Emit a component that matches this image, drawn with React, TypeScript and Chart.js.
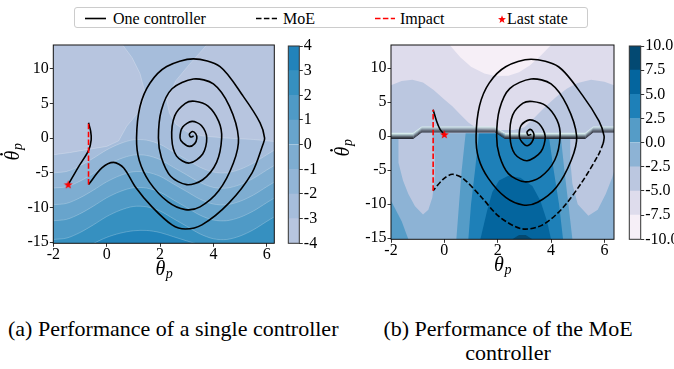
import React, { useEffect, useRef } from 'react';
import { Chart, registerables } from 'chart.js';

Chart.register(...registerables);

type P = [number, number];
const SERIF = "'Liberation Serif', 'DejaVu Serif', 'Noto Serif', serif";

// ---------- axes ----------
const X_TICKS = [-2, 0, 2, 4, 6];
const Y_TICKS = [-15, -10, -5, 0, 5, 10];
const X_MIN = -2;
const X_MAX_A = 6.283;
const X_MAX_B = 6.36;
const Y_MIN = -15.15;
const Y_MAX = 13.4;

// ---------- (a) single controller: contour levels ----------
const LEVELS_A = [-4, -3, -2, -1, 0, 1, 2, 3, 4];
const COLORS_A = ['#b7c5df', '#a6bddb', '#92b5d6', '#7eadd1', '#68a4cc', '#4f9ac6', '#3690c0', '#2283ba'];
const WAVE_X = [-2, -1.5, -1, -0.5, 0, 0.5, 1, 1.5, 2, 2.5, 3, 3.5, 4, 4.5, 5, 5.5, 6, 6.3];
const A_LEVEL_M2 = [-5.0, -4.8, -4.0, -2.9, -1.7, -0.8, -0.25, -0.3, -0.9, -2.0, -3.1, -4.2, -4.9, -5.0, -4.5, -3.6, -2.4, -1.7];
const A_LEVEL_M1 = [-7.2, -7.0, -6.2, -5.1, -3.9, -3.0, -2.45, -2.5, -3.1, -4.2, -5.3, -6.4, -7.1, -7.2, -6.7, -5.8, -4.6, -3.9];
const A_LEVEL_0 = [-9.6, -9.4, -8.6, -7.5, -6.3, -5.4, -4.85, -4.9, -5.5, -6.6, -7.7, -8.8, -9.5, -9.6, -9.1, -8.2, -7.0, -6.3];
const A_LEVEL_1 = [-11.9, -11.7, -10.9, -9.8, -8.6, -7.7, -7.15, -7.2, -7.8, -8.9, -10.0, -11.1, -11.8, -11.9, -11.4, -10.5, -9.3, -8.6];
const A_LEVEL_2 = [-14.6, -14.4, -13.6, -12.5, -11.3, -10.4, -9.85, -9.9, -10.5, -11.6, -12.7, -13.8, -14.5, -14.6, -14.1, -13.2, -12.0, -11.3];
const A_LEVEL_3 = [-17.0, -16.8, -16.4, -15.2, -14.3, -13.7, -13.35, -13.3, -13.6, -14.2, -14.8, -15.4, -16.0, -16.5, -16.6, -16.4, -16.0, -15.8];
const A_LIGHT_LEFT: P[] = [[-2, 13.4], [0.6, 13.4], [0.95, 11.6], [1.25, 9.3], [1.44, 6.5], [1.25, 4.0], [0.75, 1.7], [0.45, -0.4], [0, -1.2], [-0.8, -1.7], [-1.4, -2.1], [-2, -2.4]];
const A_LIGHT_RIGHT: P[] = [[3.75, 13.4], [6.3, 13.4], [6.3, -0.5], [5.5, -0.2], [4.5, 0.0], [3.6, 0.3], [3.0, 0.9], [2.6, 2.0], [2.35, 3.6], [2.25, 5.5], [2.6, 8.3], [3.1, 10.6], [3.75, 13.4]];

// ---------- (a) trajectory ----------
const A_SINGLE: P[] = [
  [3.26, 0.3], [3.15, 0.15], [3.1, 0.55], [3.22, 0.95], [3.34, 0.6], [3.38, 0], [3.3, -0.8], [3.1, -1.2], [2.86, -0.7],
  [2.75, 0], [2.85, 1.6], [3.2, 2.4], [3.55, 1.8], [3.75, 0], [3.6, -2.3], [3.1, -3.6], [2.62, -2.6],
  [2.44, 0], [2.55, 3.2], [2.95, 5.0], [3.3, 5.3], [3.8, 4.6], [4.2, 2.4], [4.31, 0], [4.12, -3.5], [3.6, -6.0], [3.0, -6.7], [2.4, -5.5], [2.05, -2.8],
  [1.94, 0], [2.05, 4.0], [2.45, 7.1], [3.25, 8.5], [4.0, 7.8], [4.6, 4.6], [4.94, 0], [4.75, -3.6], [4.2, -7.6], [3.5, -9.9], [2.95, -10.3], [2.3, -9.2], [1.6, -6.3], [1.22, -3.2],
  [1.12, 0], [1.25, 4.55], [1.62, 7.9], [2.25, 10.3], [3.25, 11.4], [4.25, 10.3], [5.12, 6.0], [5.75, 2.2], [5.92, 0], [5.85, -1.0], [5.45, -5.0], [4.57, -9.4], [3.57, -12.5], [2.95, -13.1],
  [2.45, -12.5], [1.7, -9.9], [1.07, -7.0], [0.64, -4.3], [0.26, -3.5], [-0.18, -4.3], [-0.68, -6.7],
];
const A_IMPACT: P[] = [[-0.68, -6.7], [-0.68, 2.2]];
const A_AFTER: P[] = [[-0.68, 2.2], [-0.6, 1.0], [-0.58, -0.25], [-0.68, -1.8], [-1.05, -4.1], [-1.44, -6.7]];
const A_LAST: P[] = [[-1.44, -6.7]];

// ---------- (b) MoE controller: contour levels ----------
const LEVELS_B = [-10, -7.5, -5, -2.5, 0, 2.5, 5, 7.5, 10];
const COLORS_B = ['#f6eff7', '#dedcec', '#bbc7e0', '#8db3d5', '#559cc7', '#1e80b8', '#04659e', '#034972'];
const B_UPPER: P[] = [[-2, 13.4], [6.36, 13.4], [6.36, 0.45], [-2, 0.45]];
const B_LAVENDER: P[] = [[-2, 13.4], [-2, 7.5], [-1.6, 8.1], [-1.2, 8.3], [-0.8, 7.9], [-0.4, 6.8], [0.0, 5.4], [0.3, 4.4], [0.6, 3.2], [0.9, 2.0], [1.2, 1.2], [1.6, 0.9], [2.6, 0.9], [3.0, 1.3], [3.3, 2.4], [3.8, 4.4], [4.2, 5.8], [4.6, 7.0], [5.0, 7.8], [5.5, 8.3], [6.0, 8.0], [6.36, 7.5], [6.36, 13.4]];
const B_WHITE: P[] = [[0.2, 13.4], [0.6, 11.6], [1.0, 10.2], [1.5, 9.2], [1.9, 8.85], [2.4, 8.9], [2.8, 9.4], [3.2, 10.4], [3.6, 11.8], [4.0, 13.4]];
const B_U_LEFT: P[] = [[-1.72, 0.5], [-1.72, -3.9], [-1.55, -6.5], [-1.35, -8.5], [-1.1, -10.3], [-0.8, -11.5], [-0.6, -10.8], [-0.45, -9.0], [-0.36, -6.0], [-0.36, -3.0], [-0.45, 0.5]];
const B_U_RIGHT: P[] = [[4.72, 0.5], [4.72, -3.5], [4.8, -7.0], [5.0, -10.0], [5.4, -11.7], [5.75, -10.8], [6.05, -8.5], [6.3, -6.0], [6.36, -5.2], [6.36, 0.5]];
const B_CORNER: P[] = [[-2, -9.5], [-1.6, -12.5], [-1.35, -15.15], [-2, -15.15]];
const B_TENT0: P[] = [[0.8, 0.5], [0.65, -5], [0.55, -10], [0.45, -15.15], [4.8, -15.15], [4.65, -10], [4.5, -5], [4.35, 0.5]];
const B_TENT1: P[] = [[1.3, 0.5], [1.15, -5], [1.0, -10], [0.9, -15.15], [4.45, -15.15], [4.3, -10], [4.1, -5], [3.9, 0.5]];
const B_DOME: P[] = [[1.35, -15.15], [1.6, -11], [1.8, -8.2], [2.05, -6.5], [2.4, -5.8], [2.85, -6.1], [3.3, -7.3], [3.6, -9.5], [3.85, -12.5], [4.0, -15.15]];
const B_PEAK: P[] = [[2.55, -15.15], [2.8, -14.5], [3.05, -14.5], [3.3, -15.15]];
const STRIP_X = [-2, -1.17, -0.85, 1.9, 2.27, 5.28, 5.58, 6.36];
const STRIP_TOP = [0.49, 0.49, 1.43, 1.43, 0.49, 0.49, 1.43, 1.43];
const STRIP_DEPTH = 0.9;
const STRIP_COLORS = ['#d8ecec', '#b2c8cc', '#8a9ca4', '#626d78', '#40464f', '#2a2d37'];

// ---------- (b) trajectories ----------
const B_SINGLE: P[] = [
  [3.26, 0.3], [3.15, 0.15], [3.1, 0.6], [3.22, 1.0], [3.33, 0.6], [3.36, 0], [3.28, -0.9], [3.1, -1.4], [2.9, -0.8],
  [2.81, 0], [2.88, 1.6], [3.2, 2.4], [3.56, 1.8], [3.78, 0], [3.62, -2.3], [3.1, -3.6], [2.64, -2.6],
  [2.46, 0], [2.56, 3.1], [2.95, 4.85], [3.3, 5.1], [3.8, 4.5], [4.22, 2.4], [4.34, 0], [4.14, -3.5], [3.6, -6.0], [3.0, -6.7], [2.4, -5.5], [2.06, -2.8],
  [1.96, 0], [2.07, 4.0], [2.45, 7.0], [3.25, 8.4], [4.0, 7.7], [4.6, 4.5], [4.96, 0], [4.76, -3.5], [4.2, -7.5], [3.5, -9.7], [2.95, -10.1], [2.3, -9.0], [1.65, -6.2], [1.28, -3.2],
  [1.19, 0], [1.32, 4.5], [1.68, 7.8], [2.3, 10.2], [3.25, 11.3], [4.28, 10.2], [5.18, 6.0], [5.8, 2.2], [5.99, 0], [5.96, -1.0],
];
const B_MOE: P[] = [[5.96, -1.0], [5.78, -2.7], [5.15, -6.8], [4.4, -10.7], [3.65, -13.1], [2.9, -13.6], [2.05, -11.8], [1.4, -9.0], [0.7, -6.2], [0.3, -5.6], [-0.04, -6.3], [-0.42, -8.0]];
const B_IMPACT: P[] = [[-0.42, -8.0], [-0.42, 3.9]];
const B_AFTER: P[] = [[-0.42, 3.9], [-0.29, 2.2], [-0.16, 1.0], [0.0, 0.25]];
const B_LAST: P[] = [[0.0, 0.25]];

// ---------- helpers ----------
const pts = (a: P[]) => a.map(([x, y]) => ({ x, y }));
const CONTOUR_EDGE = 'rgba(255,255,255,0.32)';

function poly(p: P[], color: string, order: number, edge = false) {
  return {
    data: pts(p), fill: 'shape', backgroundColor: color,
    borderColor: edge ? CONTOUR_EDGE : 'rgba(0,0,0,0)', borderWidth: edge ? 0.7 : 0,
    pointRadius: 0, tension: 0, order,
  };
}
function band(ys: number[], color: string, order: number) {
  return {
    data: WAVE_X.map((x, i) => ({ x, y: ys[i] })), fill: 'start', backgroundColor: color,
    borderColor: CONTOUR_EDGE, borderWidth: 0.7, pointRadius: 0, tension: 0.3, order,
  };
}
function traj(p: P[], color: string, dash: number[], order: number, tension: number) {
  return {
    data: pts(p), fill: false, borderColor: color, borderWidth: 1.6, borderDash: dash,
    pointRadius: 0, tension, order, borderCapStyle: 'butt', borderJoinStyle: 'round',
  };
}
function starPoint(p: P[], img: HTMLCanvasElement) {
  return { data: pts(p), showLine: false, pointStyle: img, pointRadius: 5, order: 0 };
}
function stripDatasets(order: number) {
  const n = STRIP_COLORS.length;
  return STRIP_COLORS.map((c, i) => {
    const top = STRIP_X.map((x, k) => [x, STRIP_TOP[k] - (i * STRIP_DEPTH) / n] as P);
    const bot = STRIP_X.map((x, k) => [x, STRIP_TOP[k] - ((i + 1) * STRIP_DEPTH) / n] as P).reverse();
    return poly([...top, ...bot], c, order - i);
  });
}

function makeStar(): HTMLCanvasElement {
  const c = document.createElement('canvas');
  c.width = 11; c.height = 11;
  const g = c.getContext('2d')!;
  g.fillStyle = '#ff0000';
  g.beginPath();
  for (let i = 0; i < 10; i++) {
    const r = i % 2 ? 1.9 : 4.6;
    const a = -Math.PI / 2 + (i * Math.PI) / 5;
    g.lineTo(5.5 + r * Math.cos(a), 5.8 + r * Math.sin(a));
  }
  g.closePath();
  g.fill();
  return c;
}

function drawMath(ctx: any, cx: number, cy: number, rot: number, main: string, sub: string, dot: boolean) {
  ctx.save();
  ctx.translate(cx, cy);
  ctx.rotate(rot);
  ctx.fillStyle = '#000';
  ctx.textBaseline = 'alphabetic';
  ctx.textAlign = 'left';
  const mf = `italic 20px ${SERIF}`;
  const sf = `italic 14px ${SERIF}`;
  ctx.font = mf;
  const w1 = ctx.measureText(main).width;
  ctx.font = sf;
  const w2 = ctx.measureText(sub).width;
  const x0 = -(w1 + w2) / 2;
  ctx.font = mf;
  ctx.fillText(main, x0, 6);
  if (dot) {
    ctx.beginPath();
    ctx.arc(x0 + w1 * 0.62, -11.5, 1.3, 0, Math.PI * 2);
    ctx.fill();
  }
  ctx.font = sf;
  ctx.fillText(sub, x0 + w1 + 0.5, 9);
  ctx.restore();
}

function framePlugin(color: string, titles?: { xy: number; yx: number; yy: number }) {
  return {
    id: 'frameTitles',
    afterDraw(chart: any) {
      const { ctx, chartArea: a } = chart;
      ctx.save();
      ctx.strokeStyle = color;
      ctx.lineWidth = 1;
      ctx.strokeRect(a.left, a.top, a.right - a.left, a.bottom - a.top);
      ctx.restore();
      if (titles) {
        drawMath(ctx, (a.left + a.right) / 2, titles.xy, 0, '\u03B8', 'p', false);
        drawMath(ctx, titles.yx, titles.yy, -Math.PI / 2, '\u03B8', 'p', true);
      }
    },
  };
}

const tickFont = { family: SERIF, size: 16, lineHeight: 1 };

function plotConfig(datasets: any[], xMax: number, yWidth: number, padding: any, titles: any) {
  return {
    type: 'line',
    data: { datasets },
    options: {
      responsive: false,
      animation: false,
      events: [],
      layout: { padding },
      plugins: { legend: { display: false }, tooltip: { enabled: false } },
      scales: {
        x: {
          type: 'linear', min: X_MIN, max: xMax,
          afterBuildTicks: (s: any) => { s.ticks = X_TICKS.map((v) => ({ value: v })); },
          afterFit: (s: any) => { s.height = 25; },
          grid: { drawOnChartArea: false, drawTicks: true, tickLength: 3.5, color: '#000', lineWidth: 0.8 },
          border: { display: false },
          ticks: { font: tickFont, color: '#000', padding: 0, maxRotation: 0, autoSkip: false },
        },
        y: {
          type: 'linear', min: Y_MIN, max: Y_MAX,
          afterBuildTicks: (s: any) => { s.ticks = Y_TICKS.map((v) => ({ value: v })); },
          afterFit: (s: any) => { s.width = yWidth; },
          grid: { drawOnChartArea: false, drawTicks: true, tickLength: 3.5, color: '#000', lineWidth: 0.8 },
          border: { display: false },
          ticks: { font: tickFont, color: '#000', padding: 1 },
        },
      },
    },
    plugins: [framePlugin('#111', titles)],
  };
}

function colorbarConfig(levels: number[], colors: string[], fmt: (v: number) => string, yWidth: number, padding: any) {
  return {
    type: 'bar',
    data: {
      labels: ['cb'],
      datasets: colors.map((c, i) => ({
        data: [[levels[i], levels[i + 1]]], backgroundColor: c, borderWidth: 0,
        grouped: false, barPercentage: 1, categoryPercentage: 1,
      })),
    },
    options: {
      responsive: false,
      animation: false,
      events: [],
      layout: { padding },
      plugins: { legend: { display: false }, tooltip: { enabled: false } },
      scales: {
        x: { display: false },
        y: {
          position: 'right', min: levels[0], max: levels[levels.length - 1],
          afterBuildTicks: (s: any) => { s.ticks = levels.map((v) => ({ value: v })); },
          afterFit: (s: any) => { s.width = yWidth; },
          grid: { drawOnChartArea: false, drawTicks: true, tickLength: 3.5, color: '#000', lineWidth: 0.8 },
          border: { display: false },
          ticks: { font: tickFont, color: '#000', padding: 1, callback: (v: any) => fmt(Number(v)) },
        },
      },
    },
    plugins: [framePlugin('#333')],
  };
}

function starPath(cx: number, cy: number, ro: number, ri: number) {
  const p: string[] = [];
  for (let i = 0; i < 10; i++) {
    const r = i % 2 ? ri : ro;
    const a = -Math.PI / 2 + (i * Math.PI) / 5;
    p.push(`${(cx + r * Math.cos(a)).toFixed(2)},${(cy + r * Math.sin(a)).toFixed(2)}`);
  }
  return p.join(' ');
}

export default function App() {
  const aRef = useRef<HTMLCanvasElement>(null);
  const caRef = useRef<HTMLCanvasElement>(null);
  const bRef = useRef<HTMLCanvasElement>(null);
  const cbRef = useRef<HTMLCanvasElement>(null);

  useEffect(() => {
    const star = makeStar();
    const aSets = [
      starPoint(A_LAST, star),
      traj(A_IMPACT, '#ff0000', [5.5, 2.4], 1, 0),
      traj(A_AFTER, '#000', [], 2, 0.3),
      traj(A_SINGLE, '#000', [], 3, 0.3),
      band(A_LEVEL_3, COLORS_A[7], 10),
      band(A_LEVEL_2, COLORS_A[6], 11),
      band(A_LEVEL_1, COLORS_A[5], 12),
      band(A_LEVEL_0, COLORS_A[4], 13),
      band(A_LEVEL_M1, COLORS_A[3], 14),
      band(A_LEVEL_M2, COLORS_A[2], 15),
      poly(A_LIGHT_RIGHT, COLORS_A[0], 16, true),
      poly(A_LIGHT_LEFT, COLORS_A[0], 17, true),
      poly([[X_MIN, Y_MIN], [X_MAX_A, Y_MIN], [X_MAX_A, Y_MAX], [X_MIN, Y_MAX]], COLORS_A[1], 18),
    ];
    const bSets = [
      starPoint(B_LAST, star),
      traj(B_IMPACT, '#ff0000', [5.5, 2.4], 1, 0),
      traj(B_AFTER, '#000', [], 2, 0.3),
      traj(B_MOE, '#000', [5.5, 2.4], 3, 0.3),
      traj(B_SINGLE, '#000', [], 4, 0.3),
      ...stripDatasets(20),
      poly(B_WHITE, COLORS_B[0], 21),
      poly(B_LAVENDER, COLORS_B[1], 22),
      poly(B_UPPER, COLORS_B[2], 23),
      poly(B_PEAK, COLORS_B[7], 24),
      poly(B_DOME, COLORS_B[6], 25),
      poly(B_TENT1, COLORS_B[5], 26),
      poly(B_TENT0, COLORS_B[4], 27),
      poly(B_CORNER, COLORS_B[4], 28),
      poly(B_U_RIGHT, COLORS_B[2], 29),
      poly(B_U_LEFT, COLORS_B[2], 30),
      poly([[X_MIN, Y_MIN], [X_MAX_B, Y_MIN], [X_MAX_B, Y_MAX], [X_MIN, Y_MAX]], COLORS_B[3], 31),
    ];
    const charts = [
      new Chart(aRef.current as any, plotConfig(aSets, X_MAX_A, 53.3, { left: 0, top: 45, right: 11.7, bottom: 16.7 }, { xy: 269, yx: 13, yy: 152 }) as any),
      new Chart(caRef.current as any, colorbarConfig(LEVELS_A, COLORS_A, (v) => String(v), 30.7, { left: 2.3, top: 46, right: 0, bottom: 41.7 }) as any),
      new Chart(bRef.current as any, plotConfig(bSets, X_MAX_B, 61, { left: 0, top: 45, right: 6, bottom: 20.7 }, { xy: 265, yx: 13, yy: 148 }) as any),
      new Chart(cbRef.current as any, colorbarConfig(LEVELS_B, COLORS_B, (v) => v.toFixed(1), 33.3, { left: 9.3, top: 46, right: 0, bottom: 45.7 }) as any),
    ];
    return () => charts.forEach((c) => c.destroy());
  }, []);

  const legendText = { fontFamily: SERIF, fontSize: 16, fill: '#000' } as any;
  return (
    <div style={{ position: 'absolute', left: 0, top: 0, width: 674, height: 369, background: '#fff', overflow: 'hidden' }}>
      <svg width={674} height={34} style={{ position: 'absolute', left: 0, top: 0 }}>
        <rect x={74.5} y={7.5} width={513} height={20} rx={2.5} fill="#fff" stroke="#cccccc" strokeWidth={1} />
        <line x1={85} x2={106} y1={18.5} y2={18.5} stroke="#000" strokeWidth={1.6} />
        <text x={113} y={23.5} {...legendText}>One controller</text>
        <line x1={256} x2={277} y1={18.5} y2={18.5} stroke="#000" strokeWidth={1.6} strokeDasharray="5.5 2.4" />
        <text x={283} y={23.5} {...legendText}>MoE</text>
        <line x1={375} x2={395} y1={18.5} y2={18.5} stroke="#ff0000" strokeWidth={1.6} strokeDasharray="5.5 2.4" />
        <text x={400} y={23.5} {...legendText}>Impact</text>
        <polygon points={starPath(502, 19.5, 4.2, 1.7)} fill="#ff0000" />
        <text x={507} y={23.5} {...legendText}>Last state</text>
      </svg>
      <canvas ref={aRef} width={286} height={285} style={{ position: 'absolute', left: 0, top: 0 }} />
      <canvas ref={caRef} width={44} height={285} style={{ position: 'absolute', left: 286, top: 0 }} />
      <canvas ref={bRef} width={290} height={285} style={{ position: 'absolute', left: 330, top: 0 }} />
      <canvas ref={cbRef} width={54} height={285} style={{ position: 'absolute', left: 620, top: 0 }} />
      <div style={{ position: 'absolute', left: 8, top: 317, fontFamily: SERIF, fontSize: 22, lineHeight: '24px', whiteSpace: 'nowrap', color: '#000' }}>
        (a) Performance of a single controller
      </div>
      <div style={{ position: 'absolute', left: 358, top: 317, width: 300, textAlign: 'center', fontFamily: SERIF, fontSize: 22, lineHeight: '24px', color: '#000' }}>
        (b) Performance of the MoE<br />controller
      </div>
    </div>
  );
}
